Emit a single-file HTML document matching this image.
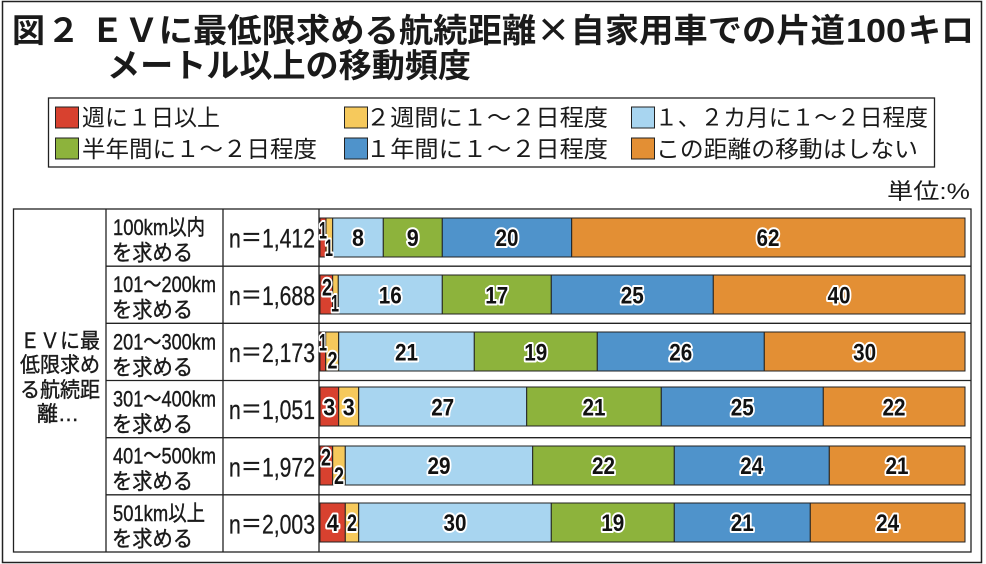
<!DOCTYPE html>
<html>
<head>
<meta charset="utf-8">
<style>
html,body{margin:0;padding:0;background:#fff;}
body{width:986px;height:564px;overflow:hidden;}
svg{display:block;}
.jp{font-family:"Liberation Sans","Noto Sans CJK JP",sans-serif;}
.cjk{font-family:"Noto Sans CJK JP","Liberation Sans",sans-serif;}
.lbl{font-family:"Liberation Sans","Noto Sans CJK JP",sans-serif;font-weight:bold;font-size:24px;fill:#111;stroke:#fff;stroke-width:4px;paint-order:stroke fill;stroke-linejoin:round;text-anchor:middle;}
</style>
</head>
<body>
<svg width="986" height="564" viewBox="0 0 986 564" xmlns="http://www.w3.org/2000/svg">
<rect x="0" y="0" width="986" height="564" fill="#fff"/>
<!-- outer frame -->
<rect x="2.5" y="1.5" width="979" height="561" fill="none" stroke="#222" stroke-width="1.5"/>

<!-- Title -->
<g class="cjk" font-weight="bold" font-size="33" fill="#1a1a1a">
<text x="12" y="42">図</text>
<text x="47" y="42">２</text>
<text x="90" y="42" textLength="755" lengthAdjust="spacingAndGlyphs">ＥＶに最低限求める航続距離×自家用車での片道</text>
<text x="846" y="42" textLength="60" lengthAdjust="spacingAndGlyphs" font-family="Liberation Sans, sans-serif">100</text>
<text x="908" y="42" textLength="66" lengthAdjust="spacingAndGlyphs">キロ</text>
<text x="107" y="77" textLength="364" lengthAdjust="spacingAndGlyphs">メートル以上の移動頻度</text>
</g>

<!-- Legend -->
<rect x="48.5" y="98" width="886" height="69" fill="none" stroke="#222" stroke-width="1.3"/>
<g stroke="#222" stroke-width="1">
<rect x="55.5" y="107" width="23" height="21" fill="#d8412f"/>
<rect x="344.5" y="107" width="23" height="21" fill="#f6c95c"/>
<rect x="631.5" y="107" width="23" height="21" fill="#a8d5f0"/>
<rect x="55.5" y="138" width="23" height="21" fill="#8db33c"/>
<rect x="344.5" y="138" width="23" height="21" fill="#4f93cb"/>
<rect x="631.5" y="138" width="23" height="21" fill="#e38f34"/>
</g>
<g class="jp" font-size="23" fill="#1a1a1a">
<text x="82" y="125.5" textLength="138" lengthAdjust="spacingAndGlyphs">週に１日以上</text>
<text x="366" y="125.5" textLength="242" lengthAdjust="spacingAndGlyphs">２週間に１～２日程度</text>
<text x="655" y="125.5" textLength="273" lengthAdjust="spacingAndGlyphs">１、２カ月に１～２日程度</text>
<text x="82" y="157" textLength="235" lengthAdjust="spacingAndGlyphs">半年間に１～２日程度</text>
<text x="366" y="157" textLength="242" lengthAdjust="spacingAndGlyphs">１年間に１～２日程度</text>
<text x="656" y="157" textLength="262" lengthAdjust="spacingAndGlyphs">この距離の移動はしない</text>
</g>

<!-- unit -->
<text class="jp" x="887" y="199" font-size="22" fill="#1a1a1a" textLength="83" lengthAdjust="spacingAndGlyphs">単位:%</text>

<!-- Table grid -->
<g stroke="#222" stroke-width="1.3" fill="none">
<rect x="13.5" y="209" width="957.5" height="343"/>
<line x1="106" y1="209" x2="106" y2="552"/>
<line x1="223" y1="209" x2="223" y2="552"/>
<line x1="319" y1="209" x2="319" y2="552"/>
<line x1="106" y1="266.2" x2="971" y2="266.2"/>
<line x1="106" y1="323.3" x2="971" y2="323.3"/>
<line x1="106" y1="380.5" x2="971" y2="380.5"/>
<line x1="106" y1="437.7" x2="971" y2="437.7"/>
<line x1="106" y1="494.8" x2="971" y2="494.8"/>
</g>

<!-- Group label -->
<g class="jp" font-size="21" fill="#1a1a1a" stroke="#1a1a1a" stroke-width="0.4" text-anchor="middle">
<text x="60" y="348" textLength="80" lengthAdjust="spacingAndGlyphs">ＥＶに最</text>
<text x="60" y="372" textLength="80" lengthAdjust="spacingAndGlyphs">低限求め</text>
<text x="60" y="397" textLength="80" lengthAdjust="spacingAndGlyphs">る航続距</text>
<text x="58" y="421">離…</text>
</g>

<!-- Row labels -->
<g class="jp" font-size="22" fill="#1a1a1a" stroke="#1a1a1a" stroke-width="0.4">
<text x="113" y="235" textLength="92" lengthAdjust="spacingAndGlyphs">100km以内</text>
<text x="112" y="260.5" textLength="81" lengthAdjust="spacingAndGlyphs">を求める</text>
<text x="113" y="292.2" textLength="103" lengthAdjust="spacingAndGlyphs">101～200km</text>
<text x="112" y="317.7" textLength="81" lengthAdjust="spacingAndGlyphs">を求める</text>
<text x="113" y="349.3" textLength="103" lengthAdjust="spacingAndGlyphs">201～300km</text>
<text x="112" y="374.8" textLength="81" lengthAdjust="spacingAndGlyphs">を求める</text>
<text x="113" y="406.5" textLength="103" lengthAdjust="spacingAndGlyphs">301～400km</text>
<text x="112" y="432" textLength="81" lengthAdjust="spacingAndGlyphs">を求める</text>
<text x="113" y="463.7" textLength="103" lengthAdjust="spacingAndGlyphs">401～500km</text>
<text x="112" y="489.2" textLength="81" lengthAdjust="spacingAndGlyphs">を求める</text>
<text x="113" y="520.8" textLength="92" lengthAdjust="spacingAndGlyphs">501km以上</text>
<text x="112" y="546.3" textLength="81" lengthAdjust="spacingAndGlyphs">を求める</text>
</g>

<!-- n values -->
<g class="jp" font-size="27" fill="#1a1a1a" stroke="#1a1a1a" stroke-width="0.3">
<text x="229" y="247.6" textLength="86" lengthAdjust="spacingAndGlyphs">n＝1,412</text>
<text x="229" y="304.8" textLength="86" lengthAdjust="spacingAndGlyphs">n＝1,688</text>
<text x="229" y="361.9" textLength="86" lengthAdjust="spacingAndGlyphs">n＝2,173</text>
<text x="229" y="419.1" textLength="86" lengthAdjust="spacingAndGlyphs">n＝1,051</text>
<text x="229" y="476.3" textLength="86" lengthAdjust="spacingAndGlyphs">n＝1,972</text>
<text x="229" y="533.4" textLength="86" lengthAdjust="spacingAndGlyphs">n＝2,003</text>
</g>

<!-- Bars -->
<g stroke="#222" stroke-width="1">
<!-- row1 -->
<rect x="320" y="218" width="6" height="39" fill="#d8412f"/>
<rect x="326" y="218" width="6.7" height="39" fill="#f6c95c"/>
<rect x="332.7" y="218" width="50.6" height="39" fill="#a8d5f0"/>
<rect x="383.3" y="218" width="59" height="39" fill="#8db33c"/>
<rect x="442.3" y="218" width="129.4" height="39" fill="#4f93cb"/>
<rect x="571.7" y="218" width="393.3" height="39" fill="#e38f34"/>
<!-- row2 -->
<rect x="320" y="275" width="12.7" height="39" fill="#d8412f"/>
<rect x="332.7" y="275" width="5.6" height="39" fill="#f6c95c"/>
<rect x="338.3" y="275" width="104" height="39" fill="#a8d5f0"/>
<rect x="442.3" y="275" width="109" height="39" fill="#8db33c"/>
<rect x="551.3" y="275" width="162" height="39" fill="#4f93cb"/>
<rect x="713.3" y="275" width="251.7" height="39" fill="#e38f34"/>
<!-- row3 -->
<rect x="320" y="332" width="5.7" height="39" fill="#d8412f"/>
<rect x="325.7" y="332" width="13" height="39" fill="#f6c95c"/>
<rect x="338.7" y="332" width="135.6" height="39" fill="#a8d5f0"/>
<rect x="474.3" y="332" width="123" height="39" fill="#8db33c"/>
<rect x="597.3" y="332" width="167" height="39" fill="#4f93cb"/>
<rect x="764.3" y="332" width="200.7" height="39" fill="#e38f34"/>
<!-- row4 -->
<rect x="320" y="387" width="18.7" height="39" fill="#d8412f"/>
<rect x="338.7" y="387" width="20" height="39" fill="#f6c95c"/>
<rect x="358.7" y="387" width="168" height="39" fill="#a8d5f0"/>
<rect x="526.7" y="387" width="134.6" height="39" fill="#8db33c"/>
<rect x="661.3" y="387" width="162" height="39" fill="#4f93cb"/>
<rect x="823.3" y="387" width="141.7" height="39" fill="#e38f34"/>
<!-- row5 -->
<rect x="320" y="446" width="12.7" height="39" fill="#d8412f"/>
<rect x="332.7" y="446" width="12.6" height="39" fill="#f6c95c"/>
<rect x="345.3" y="446" width="187.4" height="39" fill="#a8d5f0"/>
<rect x="532.7" y="446" width="141.6" height="39" fill="#8db33c"/>
<rect x="674.3" y="446" width="155" height="39" fill="#4f93cb"/>
<rect x="829.3" y="446" width="135.7" height="39" fill="#e38f34"/>
<!-- row6 -->
<rect x="320" y="503" width="25.3" height="39" fill="#d8412f"/>
<rect x="345.3" y="503" width="13.4" height="39" fill="#f6c95c"/>
<rect x="358.7" y="503" width="192.6" height="39" fill="#a8d5f0"/>
<rect x="551.3" y="503" width="123" height="39" fill="#8db33c"/>
<rect x="674.3" y="503" width="136" height="39" fill="#4f93cb"/>
<rect x="810.3" y="503" width="154.7" height="39" fill="#e38f34"/>
</g>

<!-- Bar labels -->
<g class="lbl">
<!-- row1 -->
<text x="323" y="238.5" textLength="8" lengthAdjust="spacingAndGlyphs">1</text>
<text x="329" y="256" textLength="8" lengthAdjust="spacingAndGlyphs">1</text>
<text x="358" y="246" textLength="12" lengthAdjust="spacingAndGlyphs">8</text>
<text x="412.8" y="246" textLength="12" lengthAdjust="spacingAndGlyphs">9</text>
<text x="507" y="246" textLength="23" lengthAdjust="spacingAndGlyphs">20</text>
<text x="768" y="246" textLength="23" lengthAdjust="spacingAndGlyphs">62</text>
<!-- row2 -->
<text x="327" y="295.5" textLength="10" lengthAdjust="spacingAndGlyphs">2</text>
<text x="335" y="311.5" textLength="8" lengthAdjust="spacingAndGlyphs">1</text>
<text x="390.3" y="303.4" textLength="23" lengthAdjust="spacingAndGlyphs">16</text>
<text x="496.8" y="303.4" textLength="23" lengthAdjust="spacingAndGlyphs">17</text>
<text x="632.3" y="303.4" textLength="23" lengthAdjust="spacingAndGlyphs">25</text>
<text x="839" y="303.4" textLength="23" lengthAdjust="spacingAndGlyphs">40</text>
<!-- row3 -->
<text x="323" y="350.5" textLength="8" lengthAdjust="spacingAndGlyphs">1</text>
<text x="332.5" y="368.5" textLength="10" lengthAdjust="spacingAndGlyphs">2</text>
<text x="406.5" y="360.4" textLength="23" lengthAdjust="spacingAndGlyphs">21</text>
<text x="535.8" y="360.4" textLength="23" lengthAdjust="spacingAndGlyphs">19</text>
<text x="680.8" y="360.4" textLength="23" lengthAdjust="spacingAndGlyphs">26</text>
<text x="864.6" y="360.4" textLength="23" lengthAdjust="spacingAndGlyphs">30</text>
<!-- row4 -->
<text x="329.3" y="415.4" textLength="12" lengthAdjust="spacingAndGlyphs">3</text>
<text x="348.7" y="415.4" textLength="12" lengthAdjust="spacingAndGlyphs">3</text>
<text x="442.7" y="415.4" textLength="23" lengthAdjust="spacingAndGlyphs">27</text>
<text x="594" y="415.4" textLength="23" lengthAdjust="spacingAndGlyphs">21</text>
<text x="742.3" y="415.4" textLength="23" lengthAdjust="spacingAndGlyphs">25</text>
<text x="894" y="415.4" textLength="23" lengthAdjust="spacingAndGlyphs">22</text>
<!-- row5 -->
<text x="326" y="465.5" textLength="10" lengthAdjust="spacingAndGlyphs">2</text>
<text x="339" y="484" textLength="10" lengthAdjust="spacingAndGlyphs">2</text>
<text x="439" y="474" textLength="23" lengthAdjust="spacingAndGlyphs">29</text>
<text x="603.5" y="474" textLength="23" lengthAdjust="spacingAndGlyphs">22</text>
<text x="751.8" y="474" textLength="23" lengthAdjust="spacingAndGlyphs">24</text>
<text x="897" y="474" textLength="23" lengthAdjust="spacingAndGlyphs">21</text>
<!-- row6 -->
<text x="332.7" y="531" textLength="12" lengthAdjust="spacingAndGlyphs">4</text>
<text x="352" y="531" textLength="10" lengthAdjust="spacingAndGlyphs">2</text>
<text x="455" y="531" textLength="23" lengthAdjust="spacingAndGlyphs">30</text>
<text x="612.8" y="531" textLength="23" lengthAdjust="spacingAndGlyphs">19</text>
<text x="742.3" y="531" textLength="23" lengthAdjust="spacingAndGlyphs">21</text>
<text x="887.6" y="531" textLength="23" lengthAdjust="spacingAndGlyphs">24</text>
</g>
</svg>
</body>
</html>
